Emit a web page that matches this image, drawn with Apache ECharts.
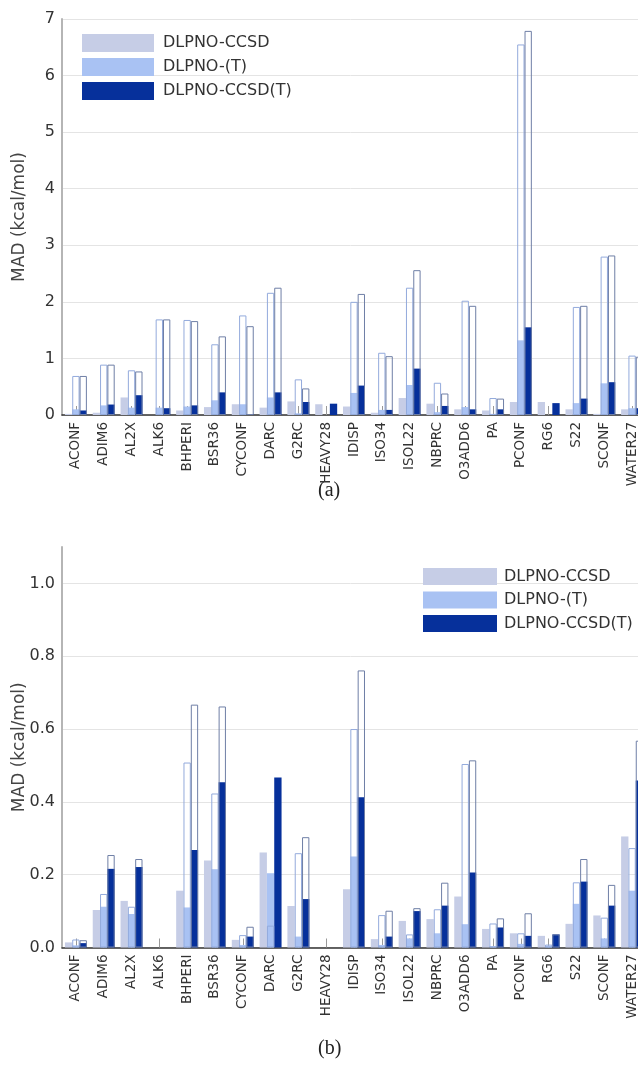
<!DOCTYPE html>
<html>
<head>
<meta charset="utf-8">
<script src="https://cdn.jsdelivr.net/npm/echarts@6/dist/echarts.min.js"></script>
<style>
html,body{margin:0;padding:0;background:#fff;}
#c{width:638px;height:1067px;}
</style>
</head>
<body>
<div id="c"></div>
<script>
var categories = ['ACONF','ADIM6','AL2X','ALK6','BHPERI','BSR36','CYCONF','DARC','G2RC','HEAVY28','IDISP','ISO34','ISOL22','NBPRC','O3ADD6','PA','PCONF','RG6','S22','SCONF','WATER27'];
var seriesNames = ['DLPNO-CCSD','DLPNO-(T)','DLPNO-CCSD(T)'];

// Panel (a)
var a_ccsd        = [0.02,0.04,0.31,0.00,0.08,0.14,0.19,0.13,0.24,0.19,0.15,0.04,0.30,0.20,0.10,0.08,0.23,0.23,0.10,0.02,0.10];
var a_t           = [0.10,0.17,0.13,0.13,0.15,0.26,0.19,0.31,0.03,0.00,0.39,0.09,0.53,0.05,0.14,0.02,1.32,0.00,0.21,0.56,0.12];
var a_t_open      = [0.69,0.89,0.79,1.69,1.68,1.25,1.76,2.16,0.63,null,2.00,1.10,2.25,0.57,2.02,0.30,6.55,null,1.91,2.80,1.05];
var a_ccsdt       = [0.08,0.185,0.35,0.12,0.17,0.40,0.01,0.40,0.23,0.20,0.52,0.09,0.82,0.16,0.10,0.10,1.55,0.21,0.29,0.58,0.12];
var a_ccsdt_open  = [0.69,0.89,0.77,1.69,1.66,1.39,1.57,2.25,0.47,null,2.14,1.04,2.56,0.38,1.93,0.29,6.79,null,1.93,2.82,1.03];
var a_ticks = {min:0, max:7, interval:1};

// Panel (b)
var b_ccsd        = [0.014,0.103,0.128,0,0.156,0.239,0.021,0.261,0.114,0,0.160,0.023,0.073,0.078,0.140,0.051,0.039,0.032,0.065,0.088,0.305];
var b_t           = [0.006,0.112,0.092,0,0.110,0.215,0.007,0.204,0.030,0,0.250,0.007,0.025,0.039,0.064,0.004,0.010,0.005,0.120,0.025,0.156];
var b_t_open      = [0.022,0.147,0.112,null,0.508,0.423,0.034,0.060,0.259,null,0.600,0.089,0.036,0.105,0.504,0.066,0.039,0.008,0.179,0.082,0.273];
var b_ccsdt       = [0.012,0.216,0.221,0,0.268,0.454,0.030,0.467,0.133,0,0.413,0.030,0.100,0.115,0.206,0.055,0.032,0.036,0.181,0.115,0.459];
var b_ccsdt_open  = [0.020,0.254,0.243,null,0.667,0.662,0.057,null,0.303,null,0.761,0.101,0.108,0.178,0.514,0.080,0.094,0.036,0.243,0.172,0.568];
var b_ticks = {min:0, max:1.1, interval:0.2};

var colors = ['#c6cde6','#a9c2f3','#06309b'];
var openBorders = [null,'#93aadc','#6f7fa6'];
var FONT = 'DejaVu Sans';

function xAxes(gi){
  return [
    {type:'category', gridIndex:gi, data:categories,
     axisLine:{show:true, lineStyle:{color:'#333', width:1.5}},
     axisTick:{show:true, inside:true, alignWithLabel:true, length:9, lineStyle:{color:'#999'}},
     axisLabel:{rotate:90, fontSize:13.5, color:'#333', margin:7, fontFamily:FONT, interval:0},
     splitLine:{show:false}},
    {type:'category', gridIndex:gi, data:categories, show:false}
  ];
}
function yAxis(gi, t, fmt){
  return {type:'value', gridIndex:gi, min:t.min, max:t.max, interval:t.interval,
    name:'MAD (kcal/mol)', nameLocation:'middle', nameGap:34, nameRotate:90, nameMoveOverlap:false,
    nameTextStyle:{fontSize:17, color:'#444', fontFamily:FONT},
    axisLine:{show:true, lineStyle:{color:'#b5b5b5', width:2}},
    axisTick:{show:false},
    axisLabel:{fontSize:16, color:'#333', margin:7, fontFamily:FONT, formatter:fmt, showMaxLabel: t.max===7},
    splitLine:{show:true, showMaxLine: t.max===7, lineStyle:{color:'#e4e4e4', width:1}}};
}
function panelSeries(gi, filled, open){
  var s = [];
  for (var i=0;i<3;i++){
    s.push({type:'bar', name:seriesNames[i], xAxisIndex:gi*2, yAxisIndex:gi, data:filled[i],
      barGap:'0%', barCategoryGap:'21%', itemStyle:{color:colors[i]}, z:2});
  }
  for (var j=0;j<3;j++){
    s.push({type:'bar', name:'open'+gi+'_'+j, xAxisIndex:gi*2+1, yAxisIndex:gi,
      data: open[j] ? open[j] : categories.map(function(){return null;}),
      barGap:'0%', barCategoryGap:'21%',
      itemStyle:{color:'rgba(255,255,255,0)', borderColor:openBorders[j]||'#fff', borderWidth:1}, z:3});
  }
  return s;
}

var chart = echarts.init(document.getElementById('c'), null, {renderer:'canvas'});
chart.setOption({
  animation:false,
  backgroundColor:'#fff',
  grid:[
    {left:62, top:19, width:584, height:396, outerBoundsMode:'none', containLabel:false},
    {left:62, top:547, width:584, height:400.5, outerBoundsMode:'none', containLabel:false}
  ],
  xAxis: xAxes(0).concat(xAxes(1)),
  yAxis:[
    yAxis(0, a_ticks, function(v){return String(v);}),
    yAxis(1, b_ticks, function(v){return v.toFixed(1);})
  ],
  legend:[
    {data:seriesNames, orient:'vertical', left:77, top:29, itemWidth:72, itemHeight:18, itemGap:6,
     icon:'rect', textStyle:{fontSize:16, color:'#333', fontFamily:FONT, padding:[0,0,0,4]}, selectedMode:false},
    {data:seriesNames, orient:'vertical', left:418, top:563, itemWidth:74, itemHeight:17, itemGap:6.5,
     icon:'rect', textStyle:{fontSize:16, color:'#333', fontFamily:FONT, padding:[0,0,0,2]}, selectedMode:false}
  ],
  graphic:[
    {type:'text', left:318, top:481, style:{text:'(a)', font:'20px "Liberation Serif"', fill:'#222'}},
    {type:'text', left:318, top:1039, style:{text:'(b)', font:'20px "Liberation Serif"', fill:'#222'}}
  ],
  series: panelSeries(0, [a_ccsd,a_t,a_ccsdt], [null,a_t_open,a_ccsdt_open])
          .concat(panelSeries(1, [b_ccsd,b_t,b_ccsdt], [null,b_t_open,b_ccsdt_open]))
});
</script>
</body>
</html>
